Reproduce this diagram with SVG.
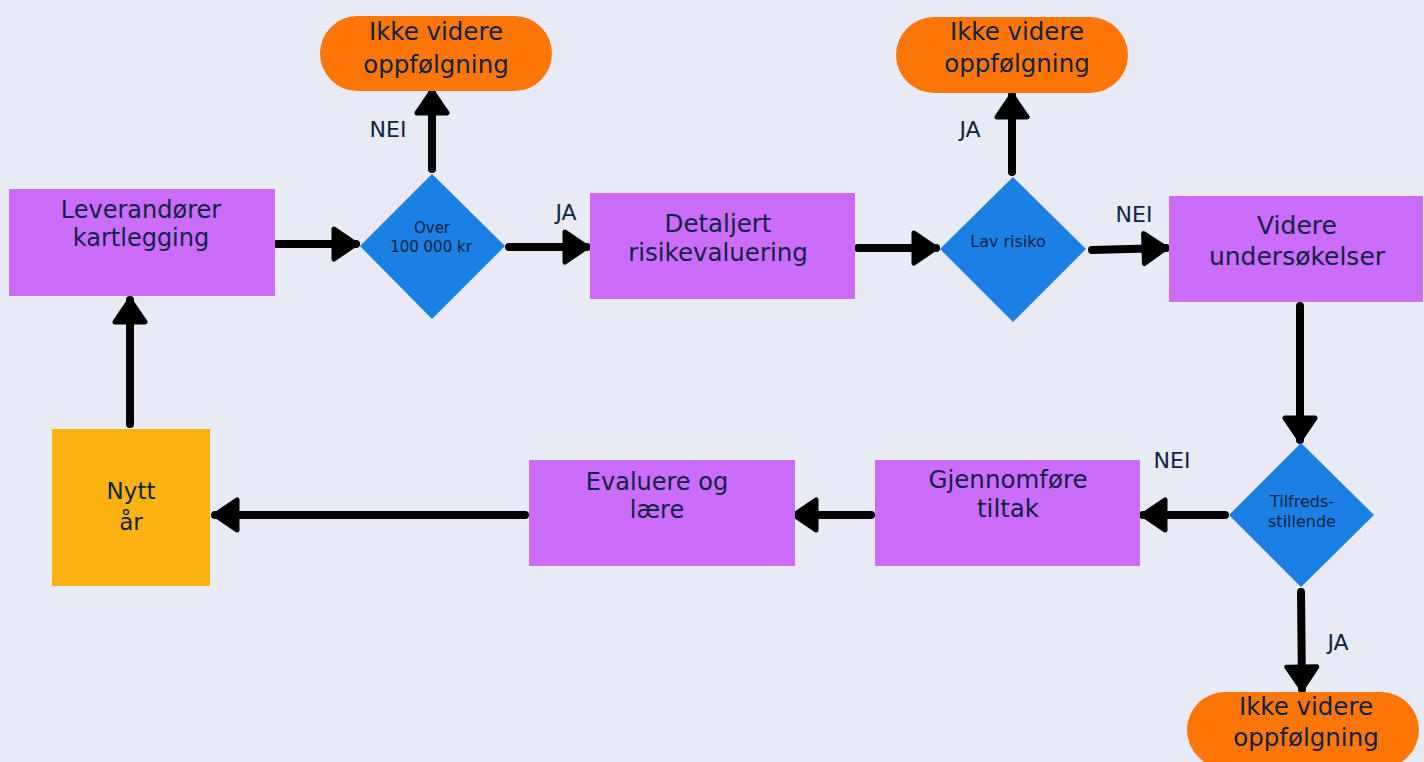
<svg xmlns="http://www.w3.org/2000/svg" width="1424" height="762" viewBox="0 0 1424 762">
<style>
  .bg{fill:#E8EAF6}
  .proc{fill:#CB6CFB}
  .dec{fill:#1C7FE3}
  .term{fill:#FE7607}
  .start{fill:#F9B210}
  text{font-family:"DejaVu Sans","Noto Sans",sans-serif;fill:#0E2442;text-anchor:middle}
  .t23{font-size:23px}
  .t24{font-size:24px}
  .t245{font-size:24.5px}
  .t25{font-size:25px}
  .t15{font-size:15px}
  .t16{font-size:16px}
  .lbl{font-size:22px}
  .conn{stroke:#000;stroke-width:8;stroke-linecap:round;fill:none;marker-end:url(#ah)}
</style>
<defs>
  <marker id="ah" markerUnits="userSpaceOnUse" markerWidth="34" markerHeight="38" refX="25" refY="18" orient="auto" overflow="visible">
    <path d="M3,3 L25,18 L3,33 Z" fill="#000" stroke="#000" stroke-width="5" stroke-linejoin="round"/>
  </marker>
</defs>
<rect class="bg" x="0" y="0" width="1424" height="762"/>

<g id="connectors">
  <line class="conn" x1="277" y1="244" x2="356" y2="244"/>
  <line class="conn" x1="432" y1="169" x2="432" y2="91"/>
  <line class="conn" x1="509" y1="247" x2="587" y2="247"/>
  <line class="conn" x1="858" y1="248" x2="936" y2="248"/>
  <line class="conn" x1="1012" y1="172" x2="1012" y2="95"/>
  <line class="conn" x1="1092" y1="250" x2="1166" y2="248"/>
  <line class="conn" x1="1300" y1="306" x2="1300" y2="440"/>
  <line class="conn" x1="1225" y1="515" x2="1143" y2="515"/>
  <line class="conn" x1="871" y1="515" x2="794" y2="515"/>
  <line class="conn" x1="525" y1="515" x2="215" y2="515"/>
  <line class="conn" x1="130" y1="424" x2="130" y2="300"/>
  <line class="conn" x1="1301" y1="592" x2="1302" y2="689"/>
  <text class="lbl" x="388" y="137">NEI</text>
  <text class="lbl" x="566" y="220">JA</text>
  <text class="lbl" x="970" y="137">JA</text>
  <text class="lbl" x="1134" y="222">NEI</text>
  <text class="lbl" x="1172" y="468">NEI</text>
  <text class="lbl" x="1338" y="650">JA</text>
</g>

<g id="node-leverandorer">
  <rect class="proc" x="9" y="189" width="266" height="107"/>
  <text class="t24" x="141" y="218">Leverandører</text>
  <text class="t24" x="141" y="246">kartlegging</text>
</g>
<g id="node-over">
  <polygon class="dec" points="432,174 505,246 432,319 360,246"/>
  <text class="t15" x="432" y="233">Over</text>
  <text class="t15" x="431" y="252">100 000 kr</text>
</g>
<g id="node-ikke1">
  <rect class="term" x="320" y="16" width="232" height="75" rx="37.5"/>
  <text class="t245" x="436" y="40">Ikke videre</text>
  <text class="t245" x="436" y="73">oppfølgning</text>
</g>
<g id="node-detaljert">
  <rect class="proc" x="590" y="193" width="265" height="106"/>
  <text class="t245" x="718" y="232">Detaljert</text>
  <text class="t245" x="718" y="261">risikevaluering</text>
</g>
<g id="node-lav">
  <polygon class="dec" points="1013,177 1086,249 1013,322 940,249"/>
  <text class="t16" x="1008" y="247">Lav risiko</text>
</g>
<g id="node-ikke2">
  <rect class="term" x="896" y="17" width="232" height="76" rx="38"/>
  <text class="t245" x="1017" y="40">Ikke videre</text>
  <text class="t245" x="1017" y="72">oppfølgning</text>
</g>
<g id="node-videre">
  <rect class="proc" x="1169" y="196" width="254" height="106"/>
  <text class="t25" x="1297" y="234">Videre</text>
  <text class="t25" x="1297" y="265">undersøkelser</text>
</g>
<g id="node-tilfreds">
  <polygon class="dec" points="1301,443 1374,515 1301,587 1229,515"/>
  <text class="t16" x="1302" y="507">Tilfreds-</text>
  <text class="t16" x="1302" y="527">stillende</text>
</g>
<g id="node-ikke3">
  <rect class="term" x="1187" y="692" width="232" height="76" rx="38"/>
  <text class="t245" x="1306" y="715">Ikke videre</text>
  <text class="t245" x="1306" y="746">oppfølgning</text>
</g>
<g id="node-gjennomfore">
  <rect class="proc" x="875" y="460" width="265" height="106"/>
  <text class="t245" x="1008" y="488">Gjennomføre</text>
  <text class="t245" x="1008" y="517">tiltak</text>
</g>
<g id="node-evaluere">
  <rect class="proc" x="529" y="460" width="266" height="106"/>
  <text class="t24" x="657" y="490">Evaluere og</text>
  <text class="t24" x="657" y="518">lære</text>
</g>
<g id="node-nytt">
  <rect class="start" x="52" y="429" width="158" height="157"/>
  <text class="t23" x="131" y="499">Nytt</text>
  <text class="t23" x="131" y="530">år</text>
</g>
</svg>
